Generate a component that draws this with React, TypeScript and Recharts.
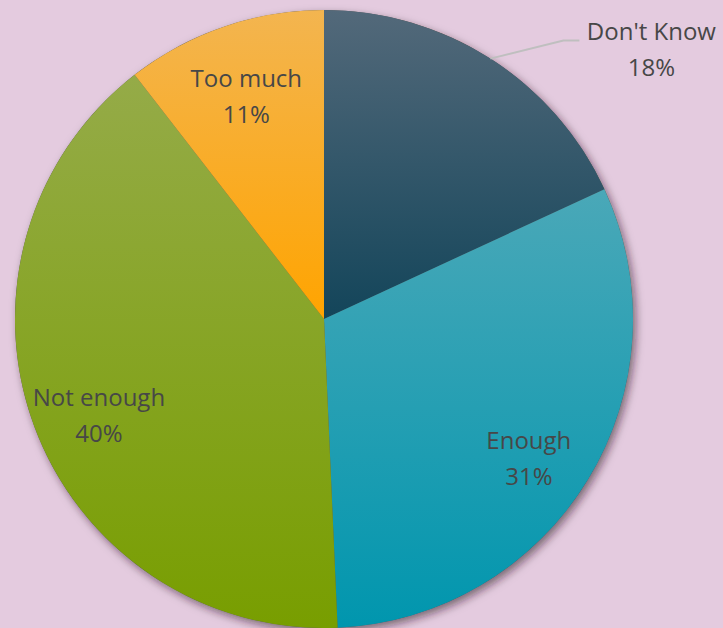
import { PieChart, Pie, Cell } from "recharts";

const categories = ["Don't Know", "Enough", "Not enough", "Too much"];
const shares = [18.1, 31.2, 40.2, 10.5];
const colorsTop = ["#53697a", "#4aa8b8", "#95ab48", "#f3b550"];
const colorsBottom = ["#13455a", "#0096ae", "#789e00", "#ffa400"];
const outsideLabels = ["Don't Know"];

const datos = categories.map((nombre, i) => ({ nombre, valor: shares[i] }));

const RADIAN = Math.PI / 180;
const TEXT = "#474747";
const FONT = "'Open Sans', sans-serif";

const renderLabel = (props: any) => {
  const { cx, cy, midAngle, outerRadius, payload, index } = props;
  const nombre = payload.nombre;
  const pct = `${Math.round(payload.valor)}%`;
  const cos = Math.cos(-midAngle * RADIAN);
  const sin = Math.sin(-midAngle * RADIAN);

  if (outsideLabels.includes(nombre)) {
    const sx = cx + outerRadius * cos;
    const sy = cy + outerRadius * sin;
    const ex = sx + 73;
    const ey = sy - 18;
    const tx = ex + 88;
    return (
      <g key={`lbl-${index}`}>
        <polyline points={`${sx},${sy} ${ex},${ey} ${ex + 16},${ey}`} fill="none" stroke="#bfbfbf" strokeWidth={2} />
        <text x={tx} y={ey - 7} textAnchor="middle" fill={TEXT} fontSize={24} fontFamily={FONT} dominantBaseline="middle">
          <tspan x={tx} dy={0}>{nombre}</tspan>
          <tspan x={tx} dy={36}>{pct}</tspan>
        </text>
      </g>
    );
  }

  // inner labels sit at ~80% of the radius
  const r = outerRadius * 0.8;
  const x = cx + r * cos * 0.97;
  const y = cy + r * sin;
  return (
    <text key={`lbl-${index}`} x={x} y={y - 4} textAnchor="middle" fill={TEXT} fontSize={24} fontFamily={FONT} dominantBaseline="middle">
      <tspan x={x} dy={0}>{nombre}</tspan>
      <tspan x={x} dy={36}>{pct}</tspan>
    </text>
  );
};

export default function App() {
  return (
    <div style={{ position: "absolute", left: 0, top: 0, width: 723, height: 628, background: "#e4cbdf", overflow: "hidden" }}>
      <PieChart width={723} height={628} margin={{ top: 0, right: 0, bottom: 0, left: 0 }}>
        <defs>
          <filter id="sombra" x="-20%" y="-20%" width="140%" height="140%">
            <feDropShadow dx={3} dy={4} stdDeviation={4} floodColor="#2a0a20" floodOpacity={0.55} />
          </filter>
          {categories.map((c, i) => (
            <linearGradient key={c} id={`grad-${i}`} x1="0" y1="0" x2="0" y2="1">
              <stop offset="0%" stopColor={colorsTop[i]} />
              <stop offset="100%" stopColor={colorsBottom[i]} />
            </linearGradient>
          ))}
        </defs>
        <Pie
          data={[{ nombre: "sombra", valor: 1 }]}
          dataKey="valor"
          cx={324}
          cy={319}
          outerRadius={309}
          startAngle={90}
          endAngle={-270}
          stroke="none"
          isAnimationActive={false}
        >
          <Cell fill="#555" filter="url(#sombra)" />
        </Pie>
        <Pie
          data={datos}
          dataKey="valor"
          nameKey="nombre"
          cx={324}
          cy={319}
          outerRadius={309}
          startAngle={90}
          endAngle={-270}
          stroke="none"
          labelLine={false}
          label={renderLabel}
          isAnimationActive={false}
        >
          {datos.map((entry, index) => (
            <Cell key={`cell-${index}`} fill={`url(#grad-${index})`} />
          ))}
        </Pie>
      </PieChart>
    </div>
  );
}
